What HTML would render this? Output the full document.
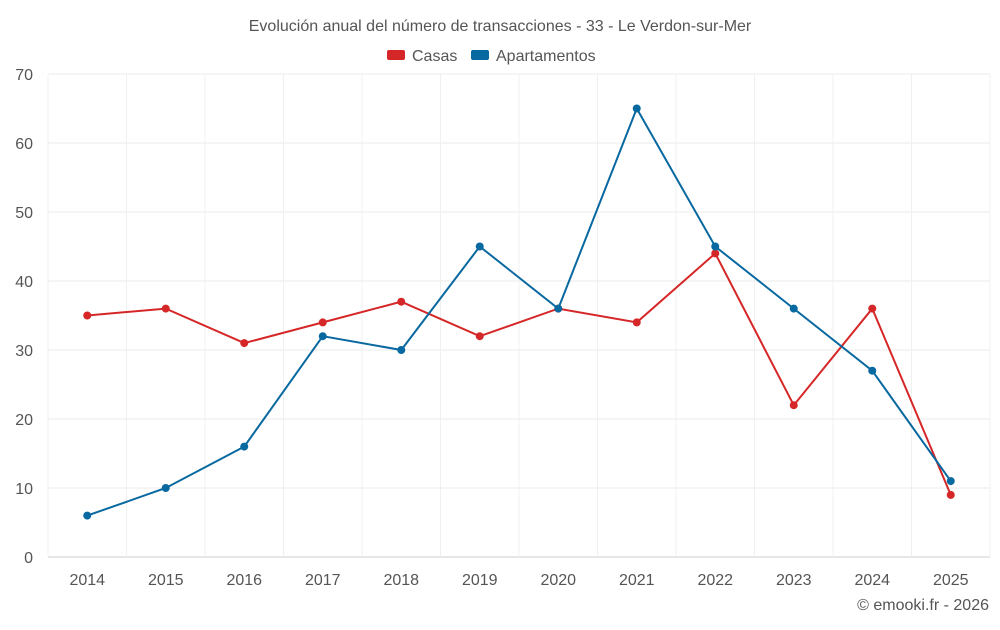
<!DOCTYPE html>
<html><head><meta charset="utf-8">
<style>
body{margin:0;background:#fff;font-family:"Liberation Sans",sans-serif;}
svg text{font-family:"Liberation Sans",sans-serif;}
</style></head>
<body>
<svg id="chart" width="1000" height="625" viewBox="0 0 1000 625">
<text x="500" y="31" text-anchor="middle" font-size="16" fill="#555">Evolución anual del número de transacciones - 33 - Le Verdon-sur-Mer</text>
<g>
<g><rect x="387" y="50" width="18" height="10" rx="2" fill="#d62728"/><text x="412" y="61" font-size="16" fill="#555">Casas</text></g>
<g><rect x="471" y="50" width="18" height="10" rx="2" fill="#0868a0"/><text x="496" y="61" font-size="16" fill="#555">Apartamentos</text></g>
</g>
<g id="grid"></g><g id="axes"></g><g id="series"></g>
<text x="989" y="610" text-anchor="end" font-size="16" fill="#555">© emooki.fr - 2026</text>
</svg>
<script>
const categories=["2014","2015","2016","2017","2018","2019","2020","2021","2022","2023","2024","2025"];
const casas=[35,36,31,34,37,32,36,34,44,22,36,9];
const apartamentos=[6,10,16,32,30,45,36,65,45,36,27,11];
const yTicks=[0,10,20,30,40,50,60,70];
const NS="http://www.w3.org/2000/svg";
const L=48,R=990,T=74,B=557,yMax=70;
const bw=(R-L)/categories.length;
function x(i){return L+bw*(i+0.5);}
function y(v){return B-(v/yMax)*(B-T);}
function mk(tag,attrs,parent){const e=document.createElementNS(NS,tag);for(const k in attrs)e.setAttribute(k,attrs[k]);parent.appendChild(e);return e;}
const grid=document.getElementById('grid'),axes=document.getElementById('axes'),series=document.getElementById('series');
yTicks.forEach(t=>{
 const l=mk('line',{x1:L,x2:R,y1:y(t),y2:y(t),stroke:t===0?'#ccc':'#ebebeb','stroke-width':1},grid);
 
 
 const tx=mk('text',{x:33,y:y(t)+6,'text-anchor':'end','font-size':16,fill:'#555'},axes);
 tx.textContent=t;
 
 
});
for(let i=0;i<=categories.length;i++){
 const l=mk('line',{x1:L+bw*i,x2:L+bw*i,y1:T,y2:B,stroke:'#f0f0f0','stroke-width':1},grid);
 
 
}
categories.forEach((c,i)=>{
 const tx=mk('text',{x:x(i),y:585,'text-anchor':'middle','font-size':16,fill:'#555'},axes);
 tx.textContent=c;
 
 
});
function draw(vals,color,name){
 const p=mk('polyline',{points:vals.map((v,i)=>x(i)+','+y(v)).join(' '),fill:'none',stroke:color,'stroke-width':2},series);
 
 
 vals.forEach((v,i)=>{
  const c=mk('circle',{cx:x(i),cy:y(v),r:4,fill:color},series);
  
  
 });
}
draw(casas,'#d62728','casas');
draw(apartamentos,'#0868a0','apartamentos');
</script>
</body></html>
